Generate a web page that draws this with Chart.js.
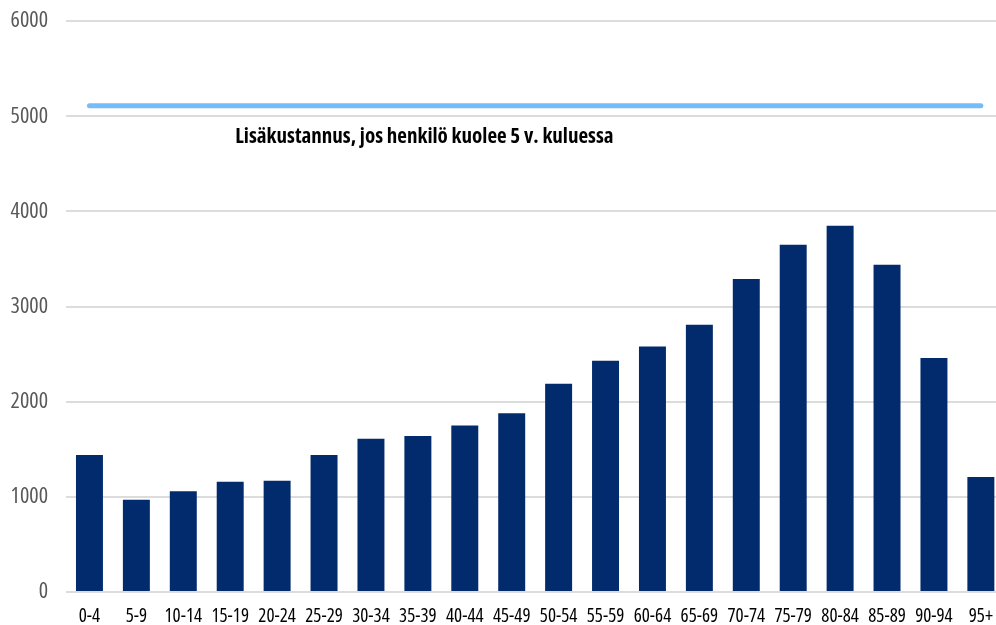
<!DOCTYPE html>
<html>
<head>
<meta charset="utf-8">
<script src="https://cdn.jsdelivr.net/npm/chart.js@4/dist/chart.umd.min.js"></script>
<style>
  html, body { margin: 0; padding: 0; background: #ffffff; }
  #wrap { width: 996px; height: 625px; overflow: hidden; position: relative; }
  #box { width: 1006px; height: 635px; position: absolute; left: 0; top: -10px; }
</style>
</head>
<body>
<div id="wrap"><div id="box"><canvas id="c"></canvas></div></div>
<script>
// Age groups
const ageGroups = ['0-4','5-9','10-14','15-19','20-24','25-29','30-34','35-39','40-44','45-49',
  '50-54','55-59','60-64','65-69','70-74','75-79','80-84','85-89','90-94','95+'];
// Cost per age group
const costs = [1440, 970, 1060, 1160, 1170, 1440, 1610, 1640, 1750, 1880,
  2190, 2430, 2580, 2810, 3290, 3650, 3850, 3440, 2460, 1210];
// Extra cost if the person dies within 5 years (constant reference level)
const extraCostLevel = 5110;
const extraCost = ageGroups.map(() => extraCostLevel);
const extraCostLabel = 'Lisäkustannus, jos henkilö kuolee 5 v. kuluessa';
// y-axis ticks
const yTicks = [0, 1000, 2000, 3000, 4000, 5000, 6000];

const FONT = '"Open Sans", "DejaVu Sans Condensed", "Liberation Sans Narrow", sans-serif';
// condensed width via the font shorthand
const STRETCH = 'condensed';

const annotationText = {
  id: 'annotationText',
  afterDatasetsDraw(chart) {
    const { ctx, scales } = chart;
    const x = scales.x.getPixelForValue(7.14);
    const y = scales.y.getPixelForValue(4780);
    ctx.save();
    ctx.font = 'condensed bold 21px ' + FONT;
    ctx.fillStyle = '#000000';
    ctx.textAlign = 'center';
    ctx.textBaseline = 'middle';
    ctx.fillText(extraCostLabel, x, y);
    ctx.restore();
  }
};

new Chart(document.getElementById('c'), {
  data: {
    labels: ageGroups,
    datasets: [
      {
        type: 'line',
        data: extraCost,
        borderColor: '#74BDF9',
        borderWidth: 5,
        borderCapStyle: 'round',
        pointRadius: 0,
        order: 0
      },
      {
        type: 'bar',
        data: costs,
        backgroundColor: '#022B6D',
        barPercentage: 0.575,
        categoryPercentage: 1.0,
        order: 1
      }
    ]
  },
  options: {
    responsive: true,
    maintainAspectRatio: false,
    animation: false,
    layout: { padding: { top: 10, right: 0, bottom: 0, left: 0 } },
    plugins: { legend: { display: false }, tooltip: { enabled: false } },
    scales: {
      x: {
        grid: { display: false, drawTicks: false },
        border: { display: false },
        ticks: {
          color: '#000000',
          font: { family: FONT, size: 19, weight: STRETCH },
          padding: 13,
          maxRotation: 0,
          autoSkip: false
        },
        afterFit(scale) { scale.height = 33; }
      },
      y: {
        min: 0,
        max: 6000,
        afterBuildTicks(scale) { scale.ticks = yTicks.map(v => ({ value: v })); },
        grid: { color: '#DCDCDC', lineWidth: 2, drawTicks: false },
        border: { display: false },
        ticks: {
          color: '#595959',
          font: { family: FONT, size: 22, weight: STRETCH },
          padding: 18,
          callback: (v) => String(v)
        },
        afterFit(scale) { scale.width = 66; }
      }
    }
  },
  plugins: [annotationText]
});
</script>
</body>
</html>
